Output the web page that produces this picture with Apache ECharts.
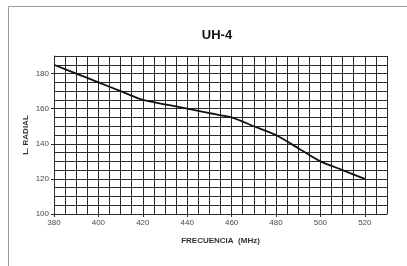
<!DOCTYPE html>
<html>
<head>
<meta charset="utf-8">
<script src="https://cdn.jsdelivr.net/npm/echarts@6/dist/echarts.min.js"></script>
<style>
  html, body { margin: 0; padding: 0; background: #fff; }
  #chart { width: 407px; height: 266px; }
</style>
</head>
<body>
<div id="chart"></div>
<script>
// frecuencia (MHz) y longitud radial
const freq = [380, 390, 400, 410, 420, 430, 440, 450, 460, 470, 480, 490, 500, 510, 520];
const radial = [185, 180, 175, 170, 165, 162.5, 160, 157.5, 155, 150, 145, 137.5, 130, 125, 120];
const xLabels = [380, 400, 420, 440, 460, 480, 500, 520];
const yLabels = [100, 120, 140, 160, 180];

const gridColor = '#2b2b2b';
const font = 'Liberation Sans, Arial, sans-serif';

// eje 0: solo la cuadrícula cada 5 unidades
function gridAxis(min, max) {
  return {
    type: 'value', min: min, max: max, interval: 5,
    axisLine: { show: true, lineStyle: { color: gridColor, width: 1 } },
    axisTick: { show: false },
    axisLabel: { show: false },
    splitLine: { show: true, lineStyle: { color: gridColor, width: 1 } }
  };
}
// eje 1: etiquetas, marcas y nombre
function labelAxis(min, max, name, gap, labels) {
  return {
    type: 'value', min: min, max: max,
    name: name, nameLocation: 'middle', nameGap: gap, nameMoveOverlap: false,
    nameTextStyle: { fontFamily: font, fontSize: 8, fontWeight: 'bold', color: '#333' },
    axisLine: { show: false },
    axisTick: { show: true, customValues: labels, length: 3, lineStyle: { color: gridColor } },
    axisLabel: { fontFamily: font, fontSize: 8, color: '#4a4a4a', margin: 5, customValues: labels },
    splitLine: { show: false }
  };
}

let myChart = echarts.init(document.getElementById('chart'));
myChart.setOption({
  backgroundColor: '#fff',
  animation: false,
  title: {
    text: 'UH-4',
    left: 212, top: 24, textAlign: 'center',
    textStyle: { fontFamily: font, fontSize: 13, fontWeight: 'bold', color: '#111' }
  },
  graphic: [{
    type: 'rect',
    shape: { x: 8.5, y: 6.5, width: 420, height: 280 },
    style: { fill: 'none', stroke: '#9a9a9a', lineWidth: 1 }
  }],
  grid: { left: 54, right: 20, top: 56, bottom: 52 },
  xAxis: [
    Object.assign(gridAxis(380, 530), { position: 'bottom' }),
    Object.assign(labelAxis(380, 530, 'FRECUENCIA  (MHz)', 23, xLabels), { position: 'bottom' })
  ],
  yAxis: [
    Object.assign(gridAxis(100, 190), { position: 'left' }),
    Object.assign(labelAxis(100, 190, 'L. RADIAL', 24, yLabels), { position: 'left' })
  ],
  series: [{
    type: 'line',
    xAxisIndex: 0, yAxisIndex: 0,
    data: freq.map((f, i) => [f, radial[i]]),
    showSymbol: false,
    smooth: 0.2,
    lineStyle: { color: '#111', width: 1.8 }
  }]
});
</script>
</body>
</html>
